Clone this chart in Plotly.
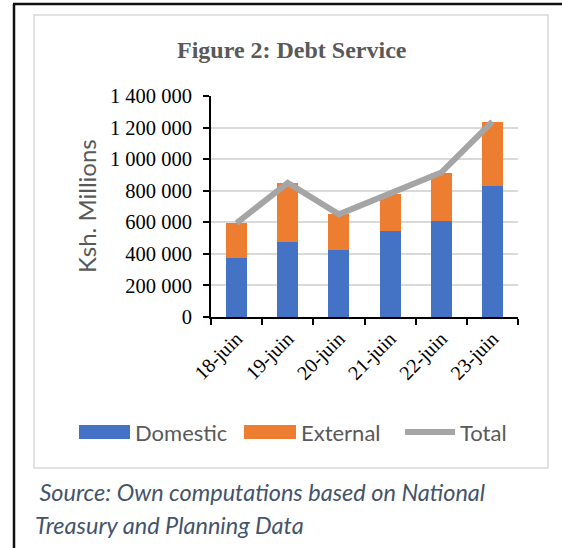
import plotly.graph_objects as go

# ---- data ----
categories = ["18-juin", "19-juin", "20-juin", "21-juin", "22-juin", "23-juin"]
domestic = [375000, 478000, 425000, 543000, 608000, 830000]
external = [220000, 372000, 225000, 237000, 307000, 405000]
total = [595000, 850000, 650000, 780000, 915000, 1238000]
series_names = ["Domestic", "External", "Total"]
title_text = "Figure 2: Debt Service"
y_title = "Ksh. Millions"
source_lines = [" Source: Own computations based on National", "Treasury and Planning Data"]
y_ticks = [0, 200000, 400000, 600000, 800000, 1000000, 1200000, 1400000]

# ---- styling ----
BLUE = "#4472c4"
ORANGE = "#ed7d31"
GRAY = "#a5a5a5"
TXT = "#595959"
SERIF = "Liberation Serif, Times New Roman, serif"
SANS = "Lato, Carlito, Calibri, sans-serif"

W, H = 562, 548
L, R, T, B = 211, 44, 96, 231
PW = W - L - R
PH = H - T - B


def px(x):
    return (x - L) / PW


def py(y):
    return (H - B - y) / PH


fig = go.Figure()
fig.add_trace(go.Bar(x=categories, y=domestic, name=series_names[0],
                     marker=dict(color=BLUE, line=dict(width=0))))
fig.add_trace(go.Bar(x=categories, y=external, name=series_names[1],
                     marker=dict(color=ORANGE, line=dict(width=0))))
fig.add_trace(go.Scatter(x=categories, y=total, name=series_names[2], mode="lines",
                         line=dict(color=GRAY, width=6)))

shapes = []
annotations = []

# outer black frame (left and top)
shapes.append(dict(type="line", xref="paper", yref="paper", x0=px(14), x1=px(14),
                   y0=py(4), y1=py(560), line=dict(color="#111111", width=2.5)))
shapes.append(dict(type="line", xref="paper", yref="paper", x0=px(13), x1=px(580),
                   y0=py(4), y1=py(4), line=dict(color="#111111", width=2.5)))
# chart box
shapes.append(dict(type="rect", xref="paper", yref="paper", x0=px(34), x1=px(548),
                   y0=py(15), y1=py(468), line=dict(color="#d9d9d9", width=1.5),
                   layer="below"))

# title
annotations.append(dict(text="<b>" + title_text + "</b>", xref="paper", yref="paper",
                        x=px(292), y=py(50), showarrow=False, xanchor="center", yanchor="middle",
                        font=dict(family=SERIF, size=24, color=TXT)))
# y title
annotations.append(dict(text=y_title, xref="paper", yref="paper", x=px(86), y=py(206),
                        showarrow=False, textangle=-90, xanchor="center", yanchor="middle",
                        font=dict(family=SANS, size=24, color=TXT)))

# legend (manual, to match wide swatches)
leg_y = 432
shapes.append(dict(type="rect", xref="paper", yref="paper", x0=px(79), x1=px(130),
                   y0=py(425), y1=py(439), fillcolor=BLUE, line=dict(width=0)))
shapes.append(dict(type="rect", xref="paper", yref="paper", x0=px(244), x1=px(296),
                   y0=py(425), y1=py(439), fillcolor=ORANGE, line=dict(width=0)))
shapes.append(dict(type="line", xref="paper", yref="paper", x0=px(405), x1=px(455),
                   y0=py(leg_y), y1=py(leg_y), line=dict(color=GRAY, width=6)))
for name, xpos in zip(series_names, [133, 299, 458]):
    annotations.append(dict(text=name, xref="paper", yref="paper", x=px(xpos), y=py(leg_y),
                            showarrow=False, xanchor="left", yanchor="middle",
                            font=dict(family=SANS, size=22, color=TXT)))

# source note
for line, (xpos, ypos) in zip(source_lines, [(32, 492), (33, 525)]):
    annotations.append(dict(text="<i>" + line + "</i>", xref="paper", yref="paper",
                            x=px(xpos), y=py(ypos), showarrow=False, xanchor="left",
                            yanchor="middle",
                            font=dict(family=SANS, size=23.5, color="#44546a")))

fig.update_layout(
    width=W, height=H,
    margin=dict(l=L, r=R, t=T, b=B, pad=0),
    paper_bgcolor="white", plot_bgcolor="white",
    barmode="stack", bargap=0.59,
    showlegend=False,
    separators=". ",
    shapes=shapes, annotations=annotations,
    xaxis=dict(type="category", showline=True, linecolor="black", linewidth=2,
               ticks="outside", ticklen=6, tickcolor="black", tickwidth=1.5,
               tickson="boundaries", tickangle=-45, automargin=False,
               tickfont=dict(family=SERIF, size=20, color="black"),
               showgrid=False, zeroline=False),
    yaxis=dict(range=[0, 1400000], tickvals=y_ticks, tickformat=",d",
               showline=True, linecolor="black", linewidth=2,
               ticks="outside", ticklen=6, tickcolor="black", tickwidth=1.5,
               ticklabelstandoff=7, automargin=False,
               tickfont=dict(family=SERIF, size=20.5, color="black"),
               showgrid=True, gridcolor="#d9d9d9", gridwidth=1.5, zeroline=False),
)

fig.write_html("out.html", config={"displayModeBar": False},
               post_script="document.body.style.margin='0px';")
